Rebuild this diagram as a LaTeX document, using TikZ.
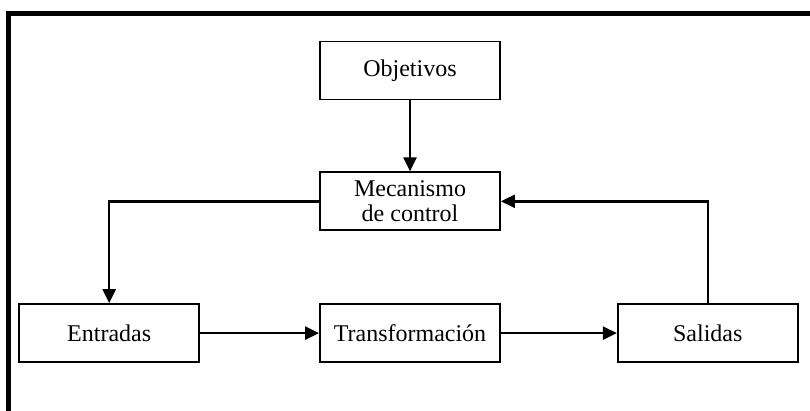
\documentclass[tikz,border=0pt]{standalone}
\usepackage{fontspec}
\setmainfont{Liberation Serif}
\usetikzlibrary{positioning}
\usetikzlibrary{arrows.meta}

\tikzset{
    caja/.style={draw, line width=1.8pt, minimum width=180pt, minimum height=58pt,
        align=center, font=\fontsize{24}{25.5}\selectfont},
    flecha/.style={line width=2.5pt, -{Triangle[length=14pt,width=13pt]}},
    marco/.style={line width=5pt}
}

\begin{document}
\begin{tikzpicture}[x=1pt,y=-1pt]
    \useasboundingbox (0,0) rectangle (810,410);
    \draw[marco] (8,415) -- (8,13) -- (815,13);
    \node[caja] (Obj) at (410,70.5) {Objetivos};
    \node[caja, below=71pt of Obj] (Mec) {Mecanismo\\de control};
    \node[caja, below=72pt of Mec] (Tra) {Transformación};
    \node[caja, left=119pt of Tra] (Ent) {Entradas};
    \node[caja, right=116pt of Tra] (Sal) {Salidas};
    \draw[flecha] (Obj) edge (Mec);
    \draw[flecha] (Ent) edge (Tra);
    \draw[flecha] (Tra) edge (Sal);
    \draw[flecha] (Mec.west) -| (Ent.north);
    \draw[flecha] (Sal.north) |- (Mec.east);
\end{tikzpicture}
\end{document}
